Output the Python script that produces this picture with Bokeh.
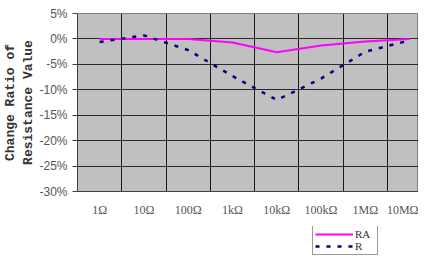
from bokeh.plotting import figure
from bokeh.layouts import column
from bokeh.models import FixedTicker, Legend, LegendItem, Range1d
from bokeh.embed import file_html
from bokeh.resources import INLINE

# ---- data ----
labels = ["1Ω", "10Ω", "100Ω", "1kΩ", "10kΩ", "100kΩ", "1MΩ", "10MΩ"]
ra_values = [0.0, 0.0, 0.0, -0.7, -2.6, -1.3, -0.5, 0.0]
r_values = [-0.6, 0.7, -2.2, -7.3, -12.0, -7.8, -2.5, -0.3]
y_ticks = [-30, -25, -20, -15, -10, -5, 0, 5]
y_tick_labels = ["-30%", "-25%", "-20%", "-15%", "-10%", "-5%", "0%", "5%"]
series_names = ["RA", "R"]

xs = [i + 0.5 for i in range(len(labels))]

RA_STYLE = dict(line_color="#ff00ff", line_width=2)
R_STYLE = dict(line_color="#000080", line_width=2.5, line_dash="4 7")

W = 418
p = figure(width=W, height=226, output_backend="svg", toolbar_location=None,
           x_range=Range1d(0, 7.70), y_range=Range1d(-30, 5),
           min_border_left=76, min_border_right=0, min_border_top=13, min_border_bottom=35)

p.background_fill_color = "#c0c0c0"
p.border_fill_color = "white"
p.outline_line_color = "#808080"

# x axis
p.xaxis.ticker = FixedTicker(ticks=xs)
p.xaxis.major_label_overrides = {x: l for x, l in zip(xs, labels)}
p.xaxis.major_tick_line_color = None
p.xaxis.minor_tick_line_color = None
p.xaxis.major_tick_out = 0
p.xaxis.major_label_standoff = 11
p.xaxis.major_label_text_font = "Liberation Serif"
p.xaxis.major_label_text_font_size = "12px"
p.xaxis.major_label_text_color = "#555555"
p.xaxis.axis_line_color = "#404040"

# y axis
p.yaxis.ticker = FixedTicker(ticks=y_ticks)
p.yaxis.major_label_overrides = {t: l for t, l in zip(y_ticks, y_tick_labels)}
p.yaxis.major_tick_out = 5
p.yaxis.major_tick_in = 0
p.yaxis.major_tick_line_color = "#404040"
p.yaxis.minor_tick_line_color = None
p.yaxis.major_label_standoff = 5
p.yaxis.major_label_text_font = "Liberation Sans"
p.yaxis.major_label_text_font_size = "12px"
p.yaxis.major_label_text_color = "#555555"
p.yaxis.axis_line_color = "#404040"
p.yaxis.axis_label = "Change Ratio of\nResistance Value"
p.yaxis.axis_label_text_font = "Liberation Mono"
p.yaxis.axis_label_text_font_style = "bold"
p.yaxis.axis_label_text_font_size = "13px"
p.yaxis.axis_label_text_color = "#333333"
p.yaxis.axis_label_standoff = 0

# grids
p.xgrid.ticker = FixedTicker(ticks=list(range(1, len(labels) + 1)))
p.xgrid.grid_line_color = "#1a1a1a"
p.xgrid.grid_line_width = 1
p.ygrid.ticker = FixedTicker(ticks=y_ticks)
p.ygrid.grid_line_color = "#2a2a2a"
p.ygrid.grid_line_width = 1

p.line(xs, ra_values, **RA_STYLE)
p.line(xs, r_values, **R_STYLE)

# ---- legend strip below the chart (its lines lie outside its own view) ----
lg = figure(width=W, height=30, output_backend="svg", toolbar_location=None,
            x_range=Range1d(0, 1), y_range=Range1d(100, 101),
            min_border=0, x_axis_location=None, y_axis_location=None)
lg.outline_line_color = None
lg.xgrid.visible = False
lg.ygrid.visible = False
lra = lg.line(xs, ra_values, **RA_STYLE)
lr = lg.line(xs, r_values, **R_STYLE)

legend = Legend(items=[LegendItem(label=series_names[0], renderers=[lra]),
                       LegendItem(label=series_names[1], renderers=[lr])],
                location=(235, 1), orientation="vertical")
legend.label_text_font = "Liberation Serif"
legend.label_text_font_size = "11px"
legend.label_text_color = "#333333"
legend.glyph_width = 38
legend.glyph_height = 12
legend.label_height = 12
legend.label_standoff = 2
legend.spacing = 0
legend.padding = 2
legend.margin = 0
legend.border_line_color = "#333333"
legend.border_line_width = 1
legend.background_fill_color = "white"
legend.background_fill_alpha = 1
lg.add_layout(legend)

layout = column(p, lg, spacing=0)
open("out.html", "w").write(file_html(layout, INLINE))
